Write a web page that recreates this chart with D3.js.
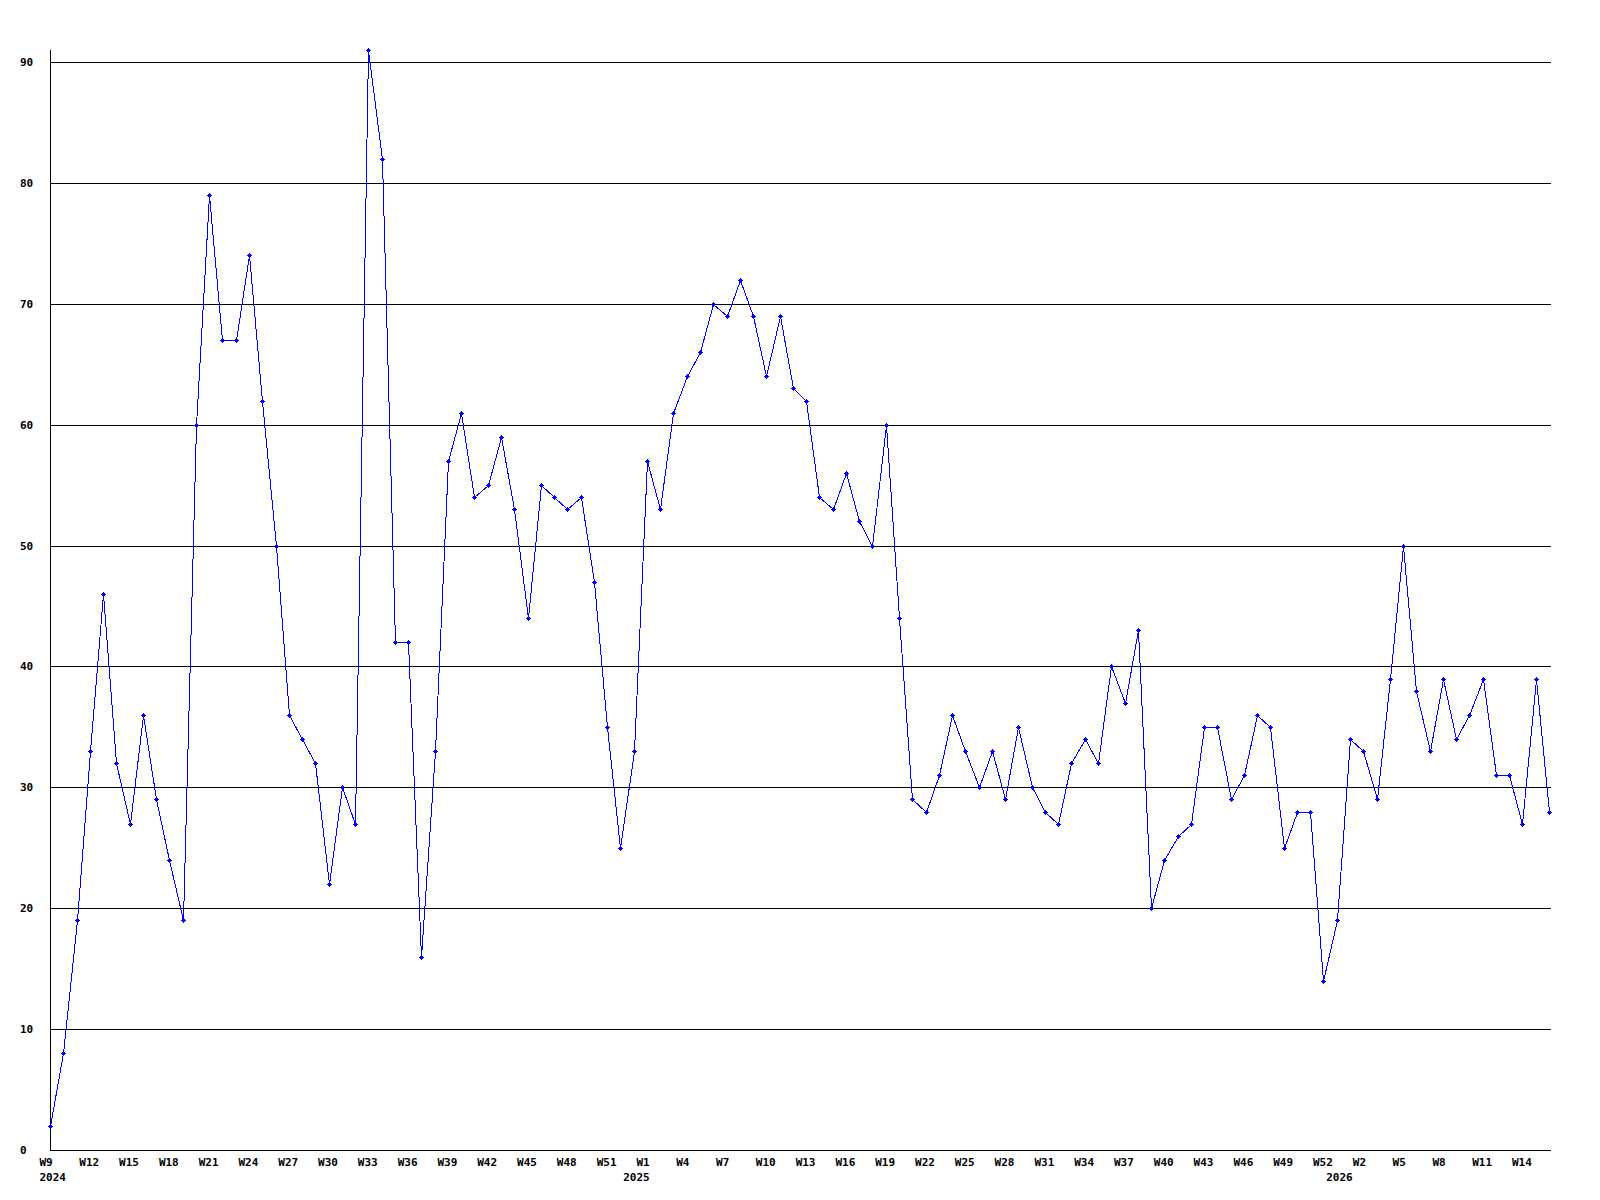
<!DOCTYPE html>
<html>
<head>
<meta charset="utf-8">
<script src="https://cdn.jsdelivr.net/npm/d3@7"></script>
<style>
  body { margin: 0; background: #fff; }
  svg text { font-family: "DejaVu Sans Mono", monospace; font-weight: bold; font-size: 11px; fill: #000; }
</style>
</head>
<body>
<svg id="chart" width="1600" height="1200"></svg>
<script>
// Valores semanales (2024 W9 .. 2026)
let values = [
  2, 8, 19, 33, 46, 32, 27, 36, 29, 24,
  19, 60, 79, 67, 67, 74, 62, 50, 36, 34,
  32, 22, 30, 27, 91, 82, 42, 42, 16, 33,
  57, 61, 54, 55, 59, 53, 44, 55, 54, 53,
  54, 47, 35, 25, 33, 57, 53, 61, 64, 66,
  70, 69, 72, 69, 64, 69, 63, 62, 54, 53,
  56, 52, 50, 60, 44, 29, 28, 31, 36, 33,
  30, 33, 29, 35, 30, 28, 27, 32, 34, 32,
  40, 37, 43, 20, 24, 26, 27, 35, 35, 29,
  31, 36, 35, 25, 28, 28, 14, 19, 34, 33,
  29, 39, 50, 38, 33, 39, 34, 36, 39, 31,
  31, 27, 39, 28
];

// Etiquetas del eje X (semana) y su posición en la serie
let tickLabels = [
  "W9", "W12", "W15", "W18", "W21", "W24", "W27", "W30", "W33", "W36",
  "W39", "W42", "W45", "W48", "W51",
  "W1", "W4", "W7", "W10", "W13", "W16", "W19", "W22", "W25", "W28",
  "W31", "W34", "W37", "W40", "W43", "W46", "W49", "W52",
  "W2", "W5", "W8", "W11", "W14"
];
let tickIndex = [
  0, 3, 6, 9, 12, 15, 18, 21, 24, 27,
  30, 33, 36, 39, 42,
  45, 48, 51, 54, 57, 60, 63, 66, 69, 72,
  75, 78, 81, 84, 87, 90, 93, 96,
  99, 102, 105, 108, 111
];

// Etiquetas de año
let yearLabels = ["2024", "2025", "2026"];
let yearIndex = [0, 44, 97];

// Marcas del eje Y
let yTicks = [0, 10, 20, 30, 40, 50, 60, 70, 80, 90];

let svg = d3.select("#chart");

svg.append("rect")
  .attr("width", 1600)
  .attr("height", 1200)
  .attr("fill", "#fff");

let x = d3.scaleLinear().domain([0, values.length - 1]).range([50, 1549]);
let y = d3.scaleLinear().domain([0, 91]).range([1150, 50]);

let px = i => Math.round(x(i)) + 0.5;
let py = v => Math.round(y(v)) + 0.5;

// Líneas horizontales de la rejilla
svg.selectAll("line.grid")
  .data(yTicks.filter(d => d > 0))
  .enter()
  .append("line")
  .attr("class", "grid")
  .attr("x1", 50)
  .attr("x2", 1551)
  .attr("y1", d => py(d))
  .attr("y2", d => py(d))
  .attr("stroke", "#000")
  .attr("stroke-width", 1)
  .attr("shape-rendering", "crispEdges");

// Ejes
svg.append("line")
  .attr("x1", 50.5).attr("x2", 50.5)
  .attr("y1", 50).attr("y2", py(0))
  .attr("stroke", "#000")
  .attr("shape-rendering", "crispEdges");

svg.append("line")
  .attr("x1", 50).attr("x2", 1551)
  .attr("y1", py(0)).attr("y2", py(0))
  .attr("stroke", "#000")
  .attr("shape-rendering", "crispEdges");

// Etiquetas del eje Y
svg.selectAll("text.ylab")
  .data(yTicks)
  .enter()
  .append("text")
  .attr("class", "ylab")
  .attr("x", 20)
  .attr("y", d => Math.round(y(d)) + 4)
  .text(d => d);

// Etiquetas del eje X
svg.selectAll("text.xlab")
  .data(tickLabels)
  .enter()
  .append("text")
  .attr("class", "xlab")
  .attr("x", (d, i) => x(tickIndex[i]) - 10.5)
  .attr("y", 1166)
  .text(d => d);

svg.selectAll("text.year")
  .data(yearLabels)
  .enter()
  .append("text")
  .attr("class", "year")
  .attr("x", (d, i) => x(yearIndex[i]) - 10.5)
  .attr("y", 1181)
  .text(d => d);

// Línea de la serie
let line = d3.line()
  .x((d, i) => px(i))
  .y(d => py(d));

svg.append("path")
  .datum(values)
  .attr("d", line)
  .attr("fill", "none")
  .attr("stroke", "#0000ff")
  .attr("stroke-width", 1)
  .attr("shape-rendering", "crispEdges");

// Marcadores de cada punto (pequeña cruz)
let marks = svg.selectAll("g.mark")
  .data(values)
  .enter()
  .append("g")
  .attr("class", "mark")
  .attr("transform", (d, i) => `translate(${Math.round(x(i))},${Math.round(y(d))})`)
  .attr("fill", "#0000ff")
  .attr("shape-rendering", "crispEdges");

marks.append("rect").attr("x", -2).attr("y", 0).attr("width", 5).attr("height", 1);
marks.append("rect").attr("x", 0).attr("y", -2).attr("width", 1).attr("height", 5);
marks.append("rect").attr("x", -1).attr("y", -1).attr("width", 3).attr("height", 3);
</script>
</body>
</html>
